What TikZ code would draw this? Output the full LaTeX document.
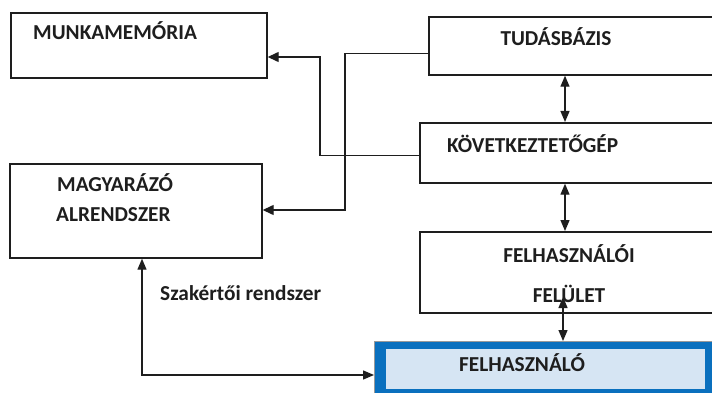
\documentclass[tikz,border=0pt]{standalone}
\usepackage{fontspec}
\setmainfont{Carlito}
\usetikzlibrary{arrows.meta}
\definecolor{userblue}{RGB}{10,112,190}
\definecolor{userfill}{RGB}{214,229,243}
\definecolor{ink}{RGB}{30,30,30}
\tikzset{
  box/.style={draw=ink, line width=1.7pt, fill=white, inner sep=0pt, anchor=north west},
  lbl/.style={font=\fontsize{21.3}{25}\selectfont\bfseries, text=ink, inner sep=0pt},
  link/.style={draw=ink, line width=1.3pt},
  tip/.style={-{Triangle[length=11pt,width=10pt]}},
  tips/.style={{Triangle[length=11pt,width=9pt]}-{Triangle[length=11pt,width=9pt]}},
}
\begin{document}
\begin{tikzpicture}[x=1pt,y=-1pt]
\useasboundingbox (0,0) rectangle (712,393);
\clip (0,0) rectangle (712,393);
\fill[white] (0,0) rectangle (712,393);

% boxes
\node[box, minimum width=256pt, minimum height=65pt] (mm) at (10,12) {};
\node[box, minimum width=300pt, minimum height=58pt] (tb) at (428,16) {};
\node[box, minimum width=310pt, minimum height=60pt] (kg) at (419,122) {};
\node[box, minimum width=310pt, minimum height=81pt] (ff) at (419,231) {};
\node[box, minimum width=252pt, minimum height=94pt] (mr) at (9,163) {};

% user box with thick blue frame
\node[draw=black!40, line width=0.6pt, fill=userblue, inner sep=0pt, anchor=north west,
      minimum width=345pt, minimum height=60pt] (fh) at (374,341) {};
\fill[userfill] (386,349) rectangle (705,389);

% labels
\node[lbl, anchor=base west] (tmm) at (33,40) {MUNKAMEMÓRIA};
\node[lbl, anchor=base] (ttb) at (556,46) {TUDÁSBÁZIS};
\node[lbl, anchor=base west] (tkg) at (447,153) {KÖVETKEZTETŐGÉP};
\node[lbl, anchor=base] (tff1) at (569,262) {FELHASZNÁLÓI};
\node[lbl, anchor=base] (tff2) at (569,302) {FELÜLET};
\node[lbl, anchor=base west] (tfh) at (459,371) {FELHASZNÁLÓ};
\node[lbl, anchor=base west] (tmr1) at (57,191) {MAGYARÁZÓ};
\node[lbl, anchor=base west] (tmr2) at (56,221) {ALRENDSZER};
\node[lbl, anchor=base west] (tsz) at (160,300) {Szakértői rendszer};

% connectors
\coordinate (kgout) at ([yshift=-3pt]kg.west);
\draw[link, tip] (kgout) -| (320,57) -- (mm.east |- 0,57);
\coordinate (tbout) at ([yshift=-8pt]tb.west);
\draw[link, tip] (tbout) -| (345,210) -- (mr.east |- 0,210);
\draw[link, tips] (tb.south -| 565,0) -- (kg.north -| 565,0);
\draw[link, tips] (kg.south -| 565,0) -- (ff.north -| 565,0);
\coordinate (ffin) at (563,297);
\draw[link, tips] (ffin) -- (fh.north -| 563,0);
\draw[link, tips] (mr.south -| 142,0) |- (fh.west |- 0,375);
\end{tikzpicture}
\end{document}
